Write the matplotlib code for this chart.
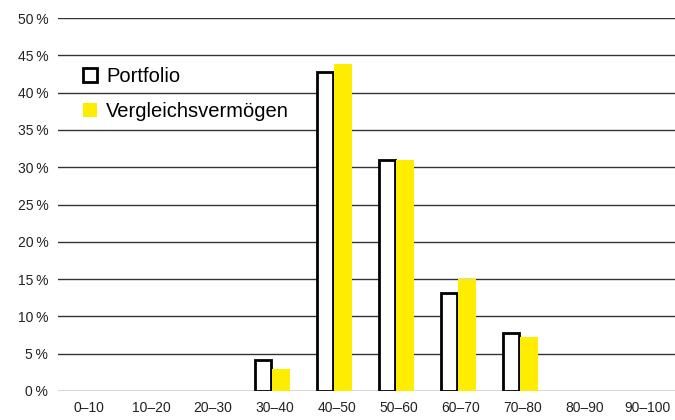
import matplotlib.pyplot as plt
import numpy as np
from matplotlib.patches import Patch

plt.rcParams['font.family'] = ['Liberation Sans', 'DejaVu Sans']

# Data
categories = ['0–10', '10–20', '20–30', '30–40', '40–50', '50–60', '60–70', '70–80', '80–90', '90–100']
portfolio = [0, 0, 0, 4.1, 42.8, 30.9, 13.1, 7.8, 0, 0]
benchmark = [0, 0, 0, 3.0, 43.9, 31.0, 15.0, 7.2, 0, 0]
y_ticks = [0, 5, 10, 15, 20, 25, 30, 35, 40, 45, 50]

fig = plt.figure(figsize=(6.75, 4.2), dpi=100)
ax = fig.add_axes([58 / 675, 1 - 391 / 420, 1 - 58 / 675, 373 / 420])

x = np.arange(len(categories))
w = 0.27
shift = -0.05
# Portfolio bars: white with black outline (skip zero bars)
for xi, v in zip(x, portfolio):
    if v > 0:
        ax.bar(xi + shift - w / 2 - 0.01, v, width=w, color='white', edgecolor='black', linewidth=2, zorder=3)
for xi, v in zip(x, benchmark):
    if v > 0:
        ax.bar(xi + shift + w / 2 + 0.01, v, width=w + 0.03, color='#FFED00', edgecolor='none', zorder=3)

ax.set_xlim(-0.5, 9.45)
ax.set_ylim(0, 50)
ax.set_yticks(y_ticks)
ax.set_yticklabels([f'{t}\u2009%' for t in y_ticks])
ax.set_xticks(x)
ax.set_xticklabels(categories)
ax.yaxis.grid(True, color='#333333', linewidth=1)
ax.set_axisbelow(True)
for s in ax.spines.values():
    s.set_visible(False)
ax.tick_params(length=0, labelsize=10, colors='#222222')
ax.tick_params(axis='y', pad=7)
ax.tick_params(axis='x', pad=7)

handles = [Patch(facecolor='white', edgecolor='black', linewidth=2),
           Patch(facecolor='#FFED00', edgecolor='none')]
ax.legend(handles, ['Portfolio', 'Vergleichsvermögen'], loc='upper left',
          bbox_to_anchor=(0.011, 0.918), frameon=False, fontsize=14.5,
          handlelength=0.7, handleheight=0.7, handletextpad=0.45, labelspacing=0.8)

fig.savefig('out.png', dpi=100)
